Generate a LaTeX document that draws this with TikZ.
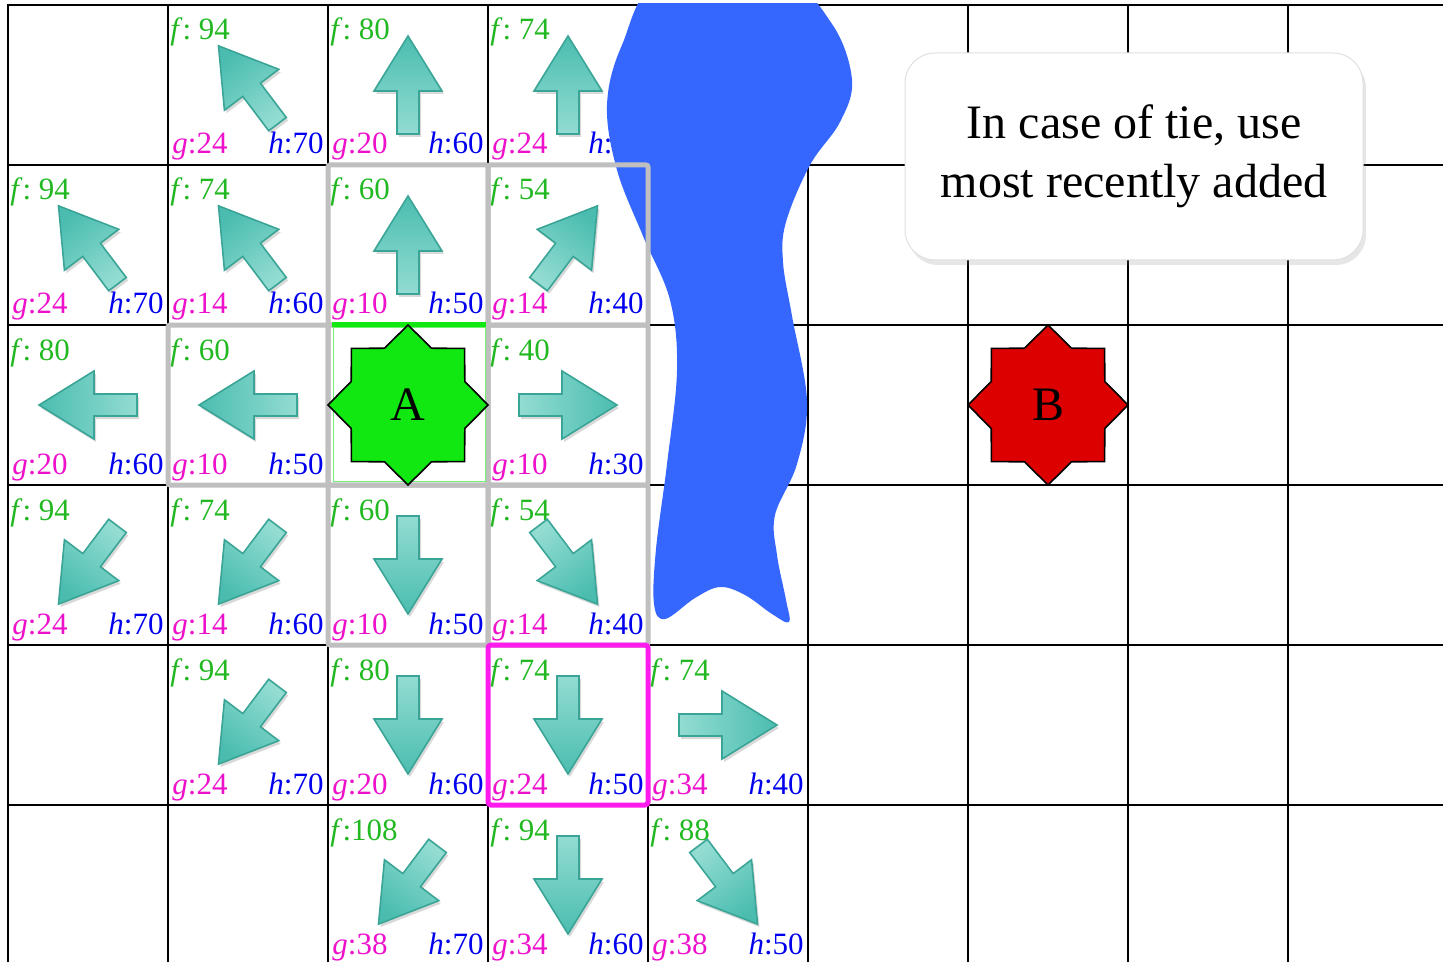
\documentclass[tikz,border=0pt]{standalone}
\usepackage{fontspec}
\setmainfont{Liberation Serif}
\usetikzlibrary{shadows}
\definecolor{fgreen}{HTML}{22B822}
\definecolor{gmag}{HTML}{EE11CC}
\definecolor{hblue}{HTML}{0000EE}
\definecolor{arrhead}{HTML}{4BBDB0}
\definecolor{arrtail}{HTML}{93DCD2}
\definecolor{arredge}{HTML}{3AA597}
\definecolor{river}{HTML}{3567FF}
\definecolor{closedgray}{HTML}{BFBFBF}
\definecolor{curmag}{HTML}{FF1AEE}
\definecolor{agreen}{HTML}{11E811}
\definecolor{bred}{HTML}{DD0000}
\tikzset{
  lbl/.style={inner sep=0pt, font=\fontsize{15.5}{18}\selectfont},
  flbl/.style={lbl, text=fgreen, anchor=base west},
  glbl/.style={lbl, text=gmag, anchor=base west},
  hlbl/.style={lbl, text=hblue, anchor=base east},
  gridline/.style={line width=1.35pt, black},
  closedbox/.style={draw=closedgray, line width=2.5pt, rounded corners=1pt},
  curbox/.style={draw=curmag, line width=2.5pt, rounded corners=1.5pt},
  starshape/.style={draw=black, line width=0.8pt, line join=miter},
  starlbl/.style={inner sep=0pt, font=\fontsize{24}{28}\selectfont},
  callout/.style={draw=black!12, line width=0.5pt, fill=white, rounded corners=15pt,
    minimum width=229pt, minimum height=103.5pt, align=center,
    font=\fontsize{24}{29.5}\selectfont,
    drop shadow={shadow xshift=1.5pt, shadow yshift=-2.5pt, opacity=0.2}},
}
\newcommand\tarrow[3]{%
  \pgfmathsetmacro\shang{#3-90}%
  \begin{scope}[shift={(#1,#2)}]
    \fill[black, opacity=0.15, shift={(2,3)}, rotate=#3] (-49,-11) -- (-6,-11) -- (-6,-34) -- (49,0) -- (-6,34) -- (-6,11) -- (-49,11) -- cycle;
    \path[draw=arredge, line width=0.8pt, line join=miter, top color=arrhead, bottom color=arrtail, shading angle=\shang, rotate=#3] (-49,-11) -- (-6,-11) -- (-6,-34) -- (49,0) -- (-6,34) -- (-6,11) -- (-49,11) -- cycle;
  \end{scope}}
\newcommand\cellinfo[6]{%
  \pgfmathsetmacro\cx{8+160*#1}%
  \pgfmathsetmacro\cy{5+160*#2}%
  \node[flbl] (f-#1-#2) at (\cx+2,\cy+35) {\textit{f}:#3};
  \node[glbl] (g-#1-#2) at (\cx+4,\cy+149) {\textit{g}:#4};
  \node[hlbl] (h-#1-#2) at (\cx+156,\cy+149) {\textit{h}:#5};
  \tarrow{\cx+80}{\cy+80}{#6}}
\newcommand\eightstar[3]{%
  \draw[starshape, fill=#3] (#1,#2) +(0:80) -- +(22.5:61.5) -- +(45:80) -- +(67.5:61.5) -- +(90:80) -- +(112.5:61.5) -- +(135:80) -- +(157.5:61.5) -- +(180:80) -- +(202.5:61.5) -- +(225:80) -- +(247.5:61.5) -- +(270:80) -- +(292.5:61.5) -- +(315:80) -- +(337.5:61.5) -- cycle;}
\begin{document}
\begin{tikzpicture}[x=0.5pt, y=-0.5pt]
\useasboundingbox (0,0) rectangle (1443,962);
\clip (0,0) rectangle (1443,962);
% grid
\foreach \c in {0,...,8} { \draw[gridline] (8+160*\c,4) -- (8+160*\c,970); }
\foreach \r in {0,...,5} { \draw[gridline] (8,5+160*\r) -- (1450,5+160*\r); }
% cells
\cellinfo{1}{0}{\ 94}{24}{70}{127}
\cellinfo{2}{0}{\ 80}{20}{60}{90}
\cellinfo{3}{0}{\ 74}{24}{50}{90}
\cellinfo{0}{1}{\ 94}{24}{70}{127}
\cellinfo{1}{1}{\ 74}{14}{60}{127}
\cellinfo{2}{1}{\ 60}{10}{50}{90}
\cellinfo{3}{1}{\ 54}{14}{40}{53}
\cellinfo{0}{2}{\ 80}{20}{60}{180}
\cellinfo{1}{2}{\ 60}{10}{50}{180}
\cellinfo{3}{2}{\ 40}{10}{30}{0}
\cellinfo{0}{3}{\ 94}{24}{70}{233}
\cellinfo{1}{3}{\ 74}{14}{60}{233}
\cellinfo{2}{3}{\ 60}{10}{50}{270}
\cellinfo{3}{3}{\ 54}{14}{40}{307}
\cellinfo{1}{4}{\ 94}{24}{70}{233}
\cellinfo{2}{4}{\ 80}{20}{60}{270}
\cellinfo{3}{4}{\ 74}{24}{50}{270}
\cellinfo{4}{4}{\ 74}{34}{40}{0}
\cellinfo{2}{5}{108}{38}{70}{233}
\cellinfo{3}{5}{\ 94}{34}{60}{270}
\cellinfo{4}{5}{\ 88}{38}{50}{307}
% river
\begin{scope}
\clip (0,4) rectangle (1443,962);
\fill[river] plot[smooth cycle, tension=0.6] coordinates {
  (662,-20) (782,-20) (832,24) (852,80) (840,122) (810,165) (786,222) (783,262)
  (792,316) (807,401) (797,464) (775,515) (777,555) (786,600) (789,622)
  (772,614) (745,595) (720,587) (695,598) (665,619) (654,604) (656,549)
  (667,464) (677,370) (670,300) (643,236) (617,170) (607,105) (622,45)};
\end{scope}
% closed set
\foreach \c/\r in {2/1,3/1,1/2,2/2,3/2,2/3,3/3} {
  \draw[closedbox] (8+160*\c,5+160*\r) rectangle (168+160*\c,165+160*\r);
}
% current
\draw[curbox] (488,645) rectangle (648,805);
% start cell
\draw[agreen!60, line width=0.5pt] (333,327) rectangle (485,481);
\draw[agreen, line width=2.5pt] (332,324) -- (486,324);
% stars
\eightstar{408}{405}{agreen}
\node[starlbl] (A) at (408,405) {A};
\eightstar{1048}{405}{bred}
\node[starlbl] (B) at (1048,405) {B};
% callout
\node[callout] (tie) at (1134,156.5) {In case of tie, use\\most recently added};
\end{tikzpicture}
\end{document}
